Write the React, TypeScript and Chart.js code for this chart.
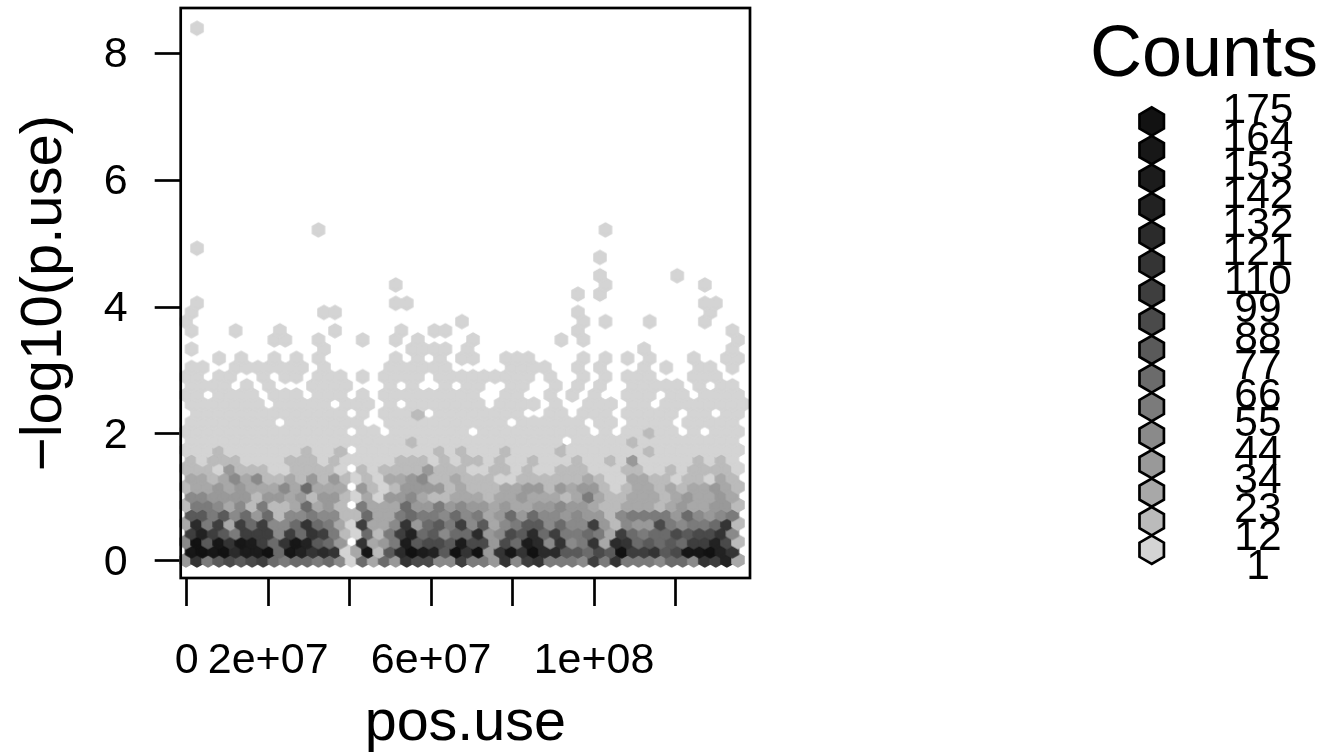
import React, { useEffect, useRef } from "react";
import { Chart, registerables } from "chart.js";

Chart.register(...registerables);

const FONT = '"Liberation Sans", Arial, sans-serif';

// Legend: labels at bin boundaries, one gray per count bin (light to dark).
const countLabels = ["175", "164", "153", "142", "132", "121", "110", "99", "88", "77", "66", "55", "44", "34", "23", "12", "1"];
const binGrays = ["#d4d4d4", "#bbbbbb", "#a8a8a8", "#999999", "#8a8a8a", "#7b7b7b", "#6b6b6b", "#5a5a5a", "#4a4a4a", "#3e3e3e", "#343434", "#2b2b2b", "#222222", "#1c1c1c", "#171717", "#121212"];
const binCodes = "abcdefghijklmnop";

const xTickValues = [0, 2e7, 4e7, 6e7, 8e7, 1e8, 1.2e8];
const xTickLabels = ["0", "2e+07", "", "6e+07", "", "1e+08", ""];
const yTickValues = [0, 2, 4, 6, 8];

// Hexagon bins, bottom row first; each letter is the gray bin of one cell, "." is an empty cell.
const denseRows = [
  "dkfhihijgfggfgeagcgdkiieejffdkejkfffejfkfffeggekjmc",
  "opoplnnpgomklkacobhlpnmhpkpdkokpllhhgihpjjkhioopmk.",
  "ephokonjgkomhgd.kcdfnhiihniidignlekefkclkghghgjjmib",
  "jmjhfjjjejgkjfbagbfjmgheggldeihlgjffgfcjgfggihiike.",
  "clfjcjgjeegkgfcajccekdghfjehcefhhegeejdbeddifeffgkb",
  "hhfhegdgbeefeebbgccfgffegefcdgdgeededdbeffffdgedef.",
  "bffecebfbbcgcdb.fcccgddfdeddcdccddeddcbbcccbcdccddb",
  "eeddddbddcdbddbacaddecbbcccbccdcccbcfcbbcccbcdccdc.",
  "bccdcdcccecgccc.dbabddddbcbbbccddbdcddbabccbcbccdcb",
  "ccbcecebbcbdbdbabaccdebbcbbbaabbbbbbcbaaccbbabbacb.",
  "bbbadbbbaabbbba.babbbbdbbbaabbabaabbbaaabbaababbbba",
  "babbbaaaabbbabaaaaabbbababbabaabaaabaabadaaaaababa.",
  "aaabaaaaaaabaab.aaaaaaababaaabaaaabaaaaaaabaaaaaaaa",
  "aaaaaaaaaaaaaaaaaaaabaaaaaaaaaaaaa.aaaaabaaaaaaaaa.",
  "aaaaaaaaaaaaaaa.aa.aaaaaaa.aaaaaaaaaa.a.aabaa.a.aaa",
  "aaaaaaaa.aaaaaaa..aaaaaaaaaaa.aaaaaa.aa.aaaa.aaaaa.",
  ".aaaaaaaaaaaaaa.a.aaab.aaaaaaaa..aa.aaa.aaaaa.aa.aa",
  "aaaaaaa.aaaaa.aaa.a.aaaaaaa.aaaa.a..aaa.aa.aaaaaaaa",
  "aa.aaaa.aaa.aaa.a.aaaaaaaaa..aa..a.a.a..aaa.aa.aaaa",
  "aaaa.a.a...aaaa...a.a..a.aa..aa..a.a.a..aaaaa.a.aa.",
  "aa.aa..a.aa.aaa.a.aaaa.aaaaaaaaa.a..a.a.aaa...aaa..",
];

// Sparse upper rows: [row, occupied columns]; all of these hold the lightest bin.
const sparseRows: [number, number[]][] = [
  [21, [0, 1, 4, 5, 6, 7, 8, 9, 10, 12, 18, 19, 20, 21, 22, 23, 29, 30, 31, 32, 35, 37, 41, 43, 46, 47, 49]],
  [22, [3, 5, 8, 10, 12, 19, 21, 23, 25, 26, 29, 30, 31, 36, 38, 40, 42, 46, 49, 50]],
  [23, [0, 12, 20, 21, 22, 23, 25, 41, 49]],
  [24, [8, 9, 12, 16, 19, 21, 26, 34, 36, 50]],
  [25, [0, 4, 8, 13, 19, 22, 23, 35, 49]],
  [26, [0, 25, 36, 38, 42, 47]],
  [27, [0, 12, 13, 35, 47]],
  [28, [1, 19, 20, 47, 48]],
  [29, [35, 37]],
  [30, [19, 38, 47]],
  [31, [37, 44]],
  [33, [37]],
  [34, [1]],
  [36, [12, 38]],
  [58, [1]],
];

// Lattice of the hexagon bins in data units.
const X_ORIGIN = -1.7e5;
const X_STEP = 2.71e6;
const Y_ORIGIN = 0.0157;
const Y_STEP = 0.1444;

type Cell = { x: number; y: number; bin: number };

function buildCells(): Cell[] {
  const cells: Cell[] = [];
  const put = (row: number, col: number, bin: number) =>
    cells.push({
      x: X_ORIGIN + X_STEP * (col + (row % 2 ? 0.5 : 0)),
      y: Y_ORIGIN + Y_STEP * row,
      bin,
    });
  denseRows.forEach((text, row) => {
    for (let col = 0; col < text.length; col++) {
      const bin = binCodes.indexOf(text[col]);
      if (bin >= 0) put(row, col, bin);
    }
  });
  sparseRows.forEach(([row, cols]) => cols.forEach((col) => put(row, col, 0)));
  return cells;
}

function hexPath(ctx: CanvasRenderingContext2D, cx: number, cy: number, r: number) {
  ctx.beginPath();
  for (let i = 0; i < 6; i++) {
    const a = Math.PI / 2 + (i * Math.PI) / 3;
    const px = cx + r * Math.cos(a);
    const py = cy + r * Math.sin(a);
    if (i === 0) ctx.moveTo(px, py);
    else ctx.lineTo(px, py);
  }
  ctx.closePath();
}

function hexImage(color: string): HTMLCanvasElement {
  const c = document.createElement("canvas");
  c.width = 20;
  c.height = 20;
  const ctx = c.getContext("2d")!;
  hexPath(ctx, 10, 10, 6.2);
  ctx.fillStyle = color;
  ctx.strokeStyle = color;
  ctx.lineWidth = 2.8;
  ctx.fill();
  ctx.stroke();
  return c;
}

const boxPlugin = {
  id: "plotBox",
  afterDatasetsDraw(chart: any) {
    const { ctx, chartArea: a } = chart;
    ctx.save();
    ctx.strokeStyle = "#000";
    ctx.lineWidth = 2.7;
    ctx.strokeRect(a.left, a.top, a.right - a.left, a.bottom - a.top);
    ctx.restore();
  },
};

const countLegendPlugin = {
  id: "countLegend",
  afterDraw(chart: any) {
    const { ctx } = chart;
    ctx.save();
    ctx.fillStyle = "#000";
    ctx.textAlign = "center";
    ctx.textBaseline = "alphabetic";
    ctx.font = `72px ${FONT}`;
    ctx.fillText("Counts", 1204, 76);

    const hexX = 1151.7;
    const hexTop = 121.5;
    const hexGap = 28.55;
    ctx.lineWidth = 2.7;
    ctx.strokeStyle = "#000";
    for (let i = 0; i < binGrays.length; i++) {
      const gray = binGrays[binGrays.length - 1 - i];
      hexPath(ctx, hexX, hexTop + i * hexGap, 14.1);
      ctx.fillStyle = gray;
      ctx.fill();
      ctx.stroke();
    }

    ctx.fillStyle = "#000";
    ctx.font = `42.5px ${FONT}`;
    ctx.textBaseline = "middle";
    countLabels.forEach((label, i) => {
      ctx.fillText(label, 1258, 111 + i * 28.5);
    });
    ctx.restore();
  },
};

export default function App() {
  const ref = useRef<HTMLCanvasElement | null>(null);

  useEffect(() => {
    document.body.style.margin = "0";
    const images = binGrays.map(hexImage);
    const tickFont = { family: FONT, size: 43 };
    const chart = new Chart(ref.current!, {
      type: "scatter",
      data: {
        datasets: [
          {
            data: buildCells() as any,
            showLine: false,
            clip: false as any,
            pointRadius: 7,
            pointHoverRadius: 7,
            pointBorderWidth: 0,
            pointStyle: ((c: any) => images[c.raw ? c.raw.bin : 0]) as any,
          },
        ],
      },
      plugins: [boxPlugin, countLegendPlugin],
      options: {
        animation: false,
        responsive: false,
        devicePixelRatio: 1,
        events: [],
        layout: { autoPadding: false, padding: { top: 8, right: 577, left: 0, bottom: 0 } },
        plugins: { legend: { display: false }, tooltip: { enabled: false }, title: { display: false } },
        scales: {
          x: {
            type: "linear",
            min: -1.473e6,
            max: 1.3829e8,
            afterFit: (s: any) => {
              s.height = 175;
              s.paddingLeft = 0;
              s.paddingRight = 0;
            },
            afterBuildTicks: (s: any) => {
              s.ticks = xTickValues.map((value) => ({ value }));
            },
            border: { display: false },
            grid: { drawOnChartArea: false, drawTicks: true, tickLength: 28, tickWidth: 2.7, tickColor: "#000" },
            ticks: {
              color: "#000",
              font: tickFont,
              padding: 29,
              autoSkip: false,
              maxRotation: 0,
              callback: (v: any) => xTickLabels[xTickValues.indexOf(v)] ?? "",
            },
            title: { display: true, text: "pos.use", color: "#000", font: { family: FONT, size: 57.5, lineHeight: 1 }, padding: { top: 0, bottom: 0 } },
          },
          y: {
            type: "linear",
            min: -0.268,
            max: 8.709,
            afterFit: (s: any) => {
              s.width = 180.7;
              s.paddingTop = 0;
              s.paddingBottom = 0;
            },
            afterBuildTicks: (s: any) => {
              s.ticks = yTickValues.map((value) => ({ value }));
            },
            border: { display: false },
            grid: { drawOnChartArea: false, drawTicks: true, tickLength: 26, tickWidth: 2.7, tickColor: "#000" },
            ticks: {
              color: "#000",
              font: tickFont,
              padding: 27,
              labelOffset: 2,
              autoSkip: false,
              callback: (v: any) => String(v),
            },
            title: { display: true, text: "\u2212log10(p.use)", color: "#000", font: { family: FONT, size: 58, lineHeight: 1 }, padding: { top: 16, bottom: 0 } },
          },
        },
      },
    });
    return () => chart.destroy();
  }, []);

  return (
    <div style={{ position: "absolute", left: 0, top: 0, width: 1327, height: 753 }}>
      <canvas ref={ref} width={1327} height={753} style={{ display: "block" }} />
    </div>
  );
}
